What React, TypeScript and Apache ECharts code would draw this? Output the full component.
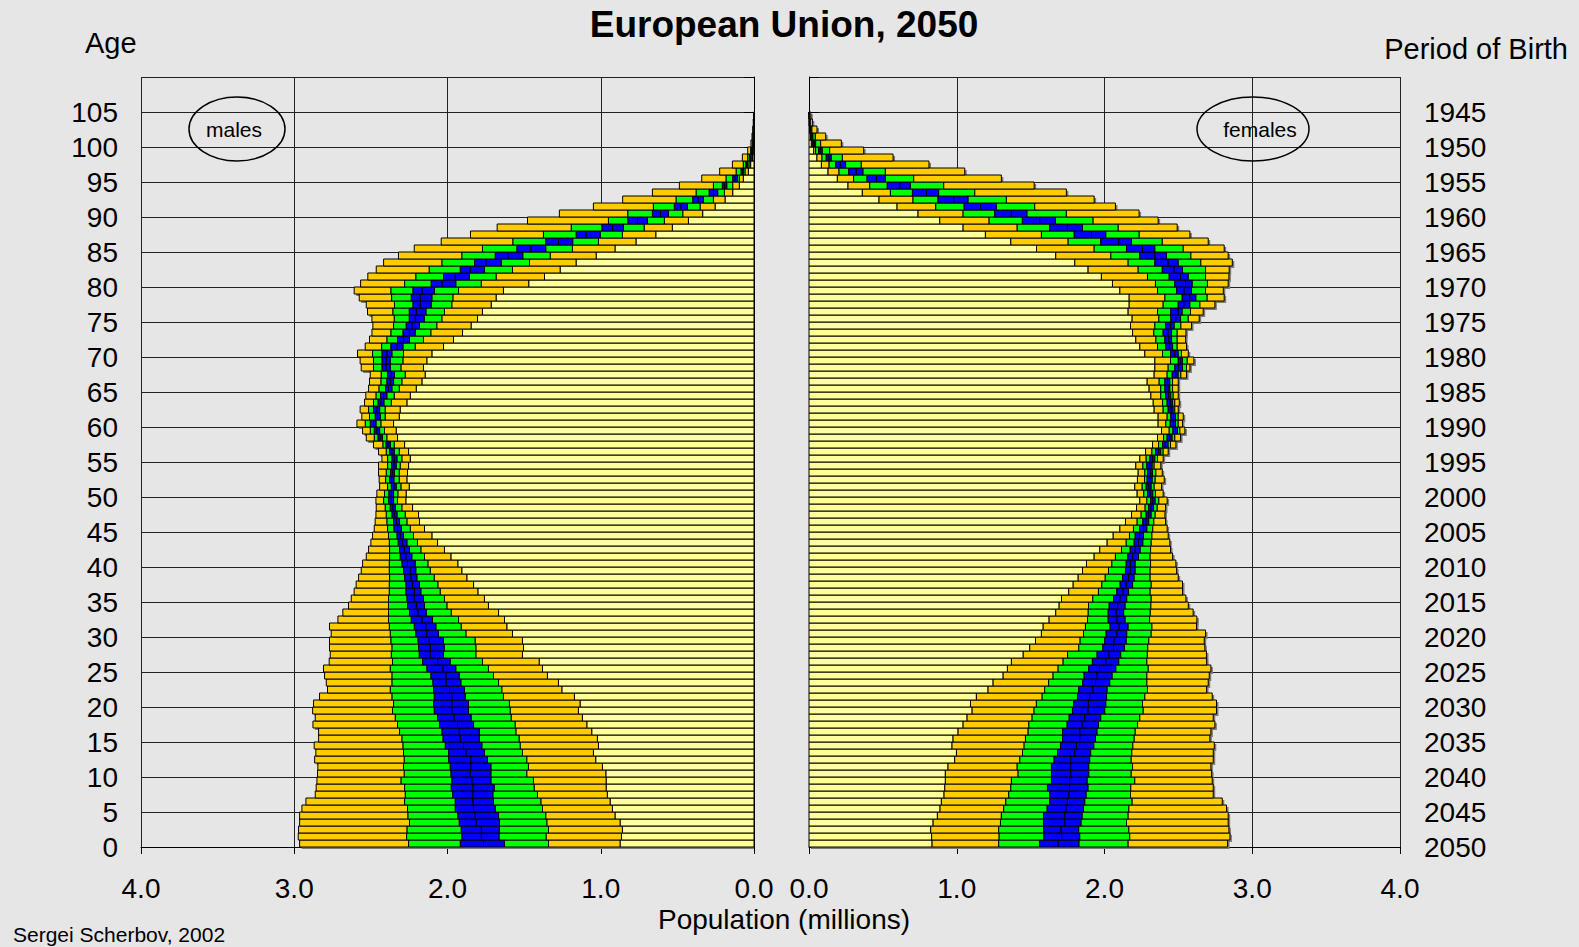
import React, { useEffect, useRef } from "react";
import * as echarts from "echarts";

// Quantile boundaries per age (index = age 0..104), millions.
// [yellow end, orange end, green end, median, blue end, green end, orange end]
const maleBands: number[][] = [
  [0.874, 1.341, 1.628, 1.765, 1.917, 2.254, 2.965],
  [0.865, 1.357, 1.664, 1.78, 1.907, 2.267, 2.974],
  [0.859, 1.341, 1.663, 1.78, 1.911, 2.265, 2.972],
  [0.874, 1.352, 1.661, 1.813, 1.924, 2.248, 2.965],
  [0.907, 1.359, 1.667, 1.82, 1.933, 2.259, 2.965],
  [0.924, 1.38, 1.689, 1.83, 1.95, 2.261, 2.95],
  [0.939, 1.391, 1.7, 1.835, 1.95, 2.28, 2.924],
  [0.957, 1.413, 1.704, 1.835, 1.967, 2.276, 2.863],
  [0.965, 1.435, 1.696, 1.835, 1.976, 2.28, 2.857],
  [0.965, 1.439, 1.717, 1.841, 1.972, 2.304, 2.852],
  [0.967, 1.483, 1.717, 1.852, 1.978, 2.283, 2.848],
  [0.989, 1.472, 1.717, 1.848, 1.983, 2.287, 2.846],
  [1.033, 1.483, 1.739, 1.848, 1.993, 2.283, 2.867],
  [1.048, 1.511, 1.759, 1.88, 1.993, 2.287, 2.859],
  [1.015, 1.526, 1.776, 1.896, 2.015, 2.291, 2.87],
  [1.022, 1.533, 1.793, 1.917, 2.03, 2.298, 2.841],
  [1.059, 1.554, 1.793, 1.924, 2.037, 2.313, 2.841],
  [1.091, 1.559, 1.83, 1.935, 2.052, 2.326, 2.878],
  [1.12, 1.585, 1.846, 1.957, 2.065, 2.341, 2.863],
  [1.146, 1.591, 1.863, 1.972, 2.087, 2.359, 2.88],
  [1.135, 1.596, 1.863, 1.972, 2.091, 2.352, 2.874],
  [1.172, 1.635, 1.885, 1.972, 2.087, 2.363, 2.835],
  [1.254, 1.646, 1.889, 1.987, 2.091, 2.374, 2.783],
  [1.276, 1.667, 1.913, 2.009, 2.096, 2.363, 2.791],
  [1.348, 1.7, 1.924, 2.011, 2.109, 2.363, 2.802],
  [1.38, 1.733, 1.946, 2.03, 2.135, 2.374, 2.809],
  [1.402, 1.772, 1.983, 2.065, 2.163, 2.359, 2.772],
  [1.511, 1.815, 2.026, 2.113, 2.185, 2.367, 2.765],
  [1.504, 1.815, 2.022, 2.113, 2.189, 2.363, 2.77],
  [1.511, 1.82, 2.026, 2.12, 2.193, 2.37, 2.77],
  [1.576, 1.88, 2.059, 2.135, 2.207, 2.374, 2.759],
  [1.613, 1.911, 2.076, 2.141, 2.217, 2.38, 2.77],
  [1.628, 1.928, 2.098, 2.167, 2.237, 2.385, 2.715],
  [1.667, 1.976, 2.139, 2.193, 2.248, 2.385, 2.683],
  [1.733, 2.004, 2.15, 2.204, 2.261, 2.385, 2.646],
  [1.759, 2.02, 2.157, 2.217, 2.265, 2.385, 2.628],
  [1.802, 2.048, 2.174, 2.217, 2.272, 2.38, 2.609],
  [1.83, 2.063, 2.183, 2.228, 2.272, 2.38, 2.596],
  [1.874, 2.087, 2.2, 2.239, 2.28, 2.378, 2.58],
  [1.907, 2.113, 2.207, 2.243, 2.287, 2.38, 2.563],
  [1.933, 2.128, 2.211, 2.261, 2.298, 2.38, 2.554],
  [1.978, 2.15, 2.233, 2.272, 2.309, 2.378, 2.53],
  [2.02, 2.174, 2.248, 2.283, 2.313, 2.378, 2.515],
  [2.065, 2.196, 2.265, 2.293, 2.322, 2.38, 2.5],
  [2.102, 2.222, 2.287, 2.309, 2.33, 2.385, 2.489],
  [2.15, 2.243, 2.302, 2.326, 2.35, 2.391, 2.478],
  [2.183, 2.265, 2.313, 2.333, 2.352, 2.396, 2.472],
  [2.189, 2.276, 2.33, 2.348, 2.363, 2.4, 2.467],
  [2.228, 2.298, 2.341, 2.357, 2.374, 2.407, 2.465],
  [2.272, 2.326, 2.352, 2.367, 2.385, 2.417, 2.467],
  [2.27, 2.324, 2.352, 2.367, 2.383, 2.411, 2.461],
  [2.25, 2.304, 2.335, 2.35, 2.367, 2.391, 2.443],
  [2.265, 2.315, 2.35, 2.365, 2.378, 2.404, 2.446],
  [2.261, 2.315, 2.346, 2.359, 2.372, 2.4, 2.45],
  [2.254, 2.309, 2.335, 2.35, 2.365, 2.391, 2.45],
  [2.243, 2.298, 2.33, 2.348, 2.363, 2.391, 2.428],
  [2.254, 2.315, 2.348, 2.363, 2.378, 2.4, 2.45],
  [2.28, 2.348, 2.374, 2.389, 2.402, 2.422, 2.483],
  [2.326, 2.396, 2.424, 2.439, 2.454, 2.478, 2.53],
  [2.335, 2.411, 2.443, 2.461, 2.478, 2.504, 2.554],
  [2.352, 2.435, 2.467, 2.483, 2.504, 2.537, 2.591],
  [2.315, 2.407, 2.439, 2.457, 2.472, 2.509, 2.559],
  [2.309, 2.407, 2.443, 2.461, 2.483, 2.515, 2.57],
  [2.265, 2.367, 2.415, 2.435, 2.454, 2.483, 2.541],
  [2.243, 2.348, 2.396, 2.417, 2.437, 2.467, 2.533],
  [2.204, 2.315, 2.363, 2.385, 2.404, 2.448, 2.515],
  [2.167, 2.298, 2.352, 2.374, 2.396, 2.435, 2.509],
  [2.146, 2.276, 2.346, 2.367, 2.391, 2.433, 2.504],
  [2.157, 2.304, 2.374, 2.402, 2.428, 2.483, 2.563],
  [2.135, 2.291, 2.374, 2.4, 2.428, 2.483, 2.57],
  [2.102, 2.287, 2.363, 2.396, 2.428, 2.489, 2.587],
  [2.026, 2.211, 2.291, 2.33, 2.37, 2.43, 2.537],
  [1.961, 2.157, 2.248, 2.287, 2.326, 2.396, 2.509],
  [1.902, 2.109, 2.211, 2.248, 2.291, 2.37, 2.493],
  [1.846, 2.07, 2.183, 2.233, 2.27, 2.352, 2.487],
  [1.804, 2.037, 2.152, 2.211, 2.25, 2.348, 2.493],
  [1.772, 2.02, 2.141, 2.204, 2.25, 2.357, 2.522],
  [1.715, 1.972, 2.107, 2.178, 2.226, 2.346, 2.53],
  [1.683, 1.965, 2.102, 2.178, 2.237, 2.365, 2.576],
  [1.635, 1.928, 2.085, 2.167, 2.226, 2.37, 2.609],
  [1.47, 1.78, 1.946, 2.037, 2.107, 2.28, 2.567],
  [1.367, 1.683, 1.857, 1.95, 2.026, 2.207, 2.52],
  [1.265, 1.576, 1.759, 1.852, 1.917, 2.12, 2.465],
  [1.161, 1.465, 1.65, 1.75, 1.824, 2.037, 2.417],
  [1.03, 1.33, 1.509, 1.607, 1.689, 1.907, 2.32],
  [0.907, 1.185, 1.359, 1.457, 1.548, 1.772, 2.217],
  [0.77, 1.015, 1.183, 1.276, 1.359, 1.574, 2.041],
  [0.641, 0.859, 1.004, 1.096, 1.161, 1.374, 1.85],
  [0.533, 0.717, 0.852, 0.924, 0.993, 1.193, 1.676],
  [0.428, 0.585, 0.696, 0.761, 0.824, 0.95, 1.478],
  [0.335, 0.465, 0.559, 0.61, 0.663, 0.824, 1.27],
  [0.254, 0.352, 0.435, 0.478, 0.52, 0.657, 1.048],
  [0.189, 0.265, 0.33, 0.365, 0.4, 0.509, 0.857],
  [0.139, 0.193, 0.237, 0.265, 0.293, 0.378, 0.663],
  [0.096, 0.139, 0.178, 0.193, 0.207, 0.265, 0.487],
  [0.07, 0.096, 0.109, 0.124, 0.139, 0.183, 0.341],
  [0.037, 0.059, 0.07, 0.077, 0.085, 0.117, 0.224],
  [0.022, 0.033, 0.043, 0.048, 0.054, 0.07, 0.141],
  [0.009, 0.013, 0.02, 0.025, 0.03, 0.041, 0.076],
  [0.006, 0.009, 0.012, 0.014, 0.016, 0.022, 0.041],
  [0.003, 0.005, 0.007, 0.008, 0.009, 0.012, 0.02],
  [0.002, 0.003, 0.004, 0.005, 0.006, 0.008, 0.013],
  [0.001, 0.002, 0.0025, 0.003, 0.0035, 0.005, 0.008],
  [0.0005, 0.001, 0.0015, 0.002, 0.0025, 0.003, 0.005],
  [0.0003, 0.0006, 0.0008, 0.001, 0.0012, 0.0015, 0.003],
];

const femaleBands: number[][] = [
  [0.833, 1.284, 1.56, 1.686, 1.828, 2.16, 2.833],
  [0.83, 1.287, 1.59, 1.71, 1.833, 2.171, 2.849],
  [0.824, 1.284, 1.589, 1.706, 1.826, 2.165, 2.842],
  [0.84, 1.296, 1.587, 1.731, 1.842, 2.149, 2.837],
  [0.869, 1.302, 1.587, 1.731, 1.849, 2.16, 2.837],
  [0.887, 1.318, 1.612, 1.74, 1.858, 2.165, 2.826],
  [0.896, 1.332, 1.63, 1.749, 1.867, 2.187, 2.797],
  [0.914, 1.352, 1.63, 1.759, 1.876, 2.176, 2.736],
  [0.919, 1.366, 1.614, 1.763, 1.889, 2.178, 2.736],
  [0.923, 1.37, 1.641, 1.765, 1.883, 2.205, 2.729],
  [0.923, 1.415, 1.641, 1.772, 1.894, 2.181, 2.725],
  [0.941, 1.409, 1.641, 1.772, 1.894, 2.19, 2.72],
  [0.986, 1.427, 1.659, 1.772, 1.9, 2.181, 2.736],
  [0.998, 1.445, 1.682, 1.799, 1.907, 2.185, 2.736],
  [0.968, 1.456, 1.702, 1.81, 1.928, 2.192, 2.743],
  [0.975, 1.465, 1.716, 1.833, 1.939, 2.201, 2.713],
  [1.009, 1.483, 1.716, 1.833, 1.95, 2.208, 2.72],
  [1.043, 1.488, 1.747, 1.849, 1.959, 2.224, 2.747],
  [1.07, 1.51, 1.761, 1.866, 1.975, 2.239, 2.736],
  [1.104, 1.523, 1.783, 1.889, 2.002, 2.262, 2.758],
  [1.093, 1.539, 1.792, 1.891, 2.009, 2.257, 2.758],
  [1.133, 1.578, 1.817, 1.9, 2.014, 2.273, 2.729],
  [1.212, 1.595, 1.826, 1.923, 2.018, 2.291, 2.691],
  [1.246, 1.622, 1.853, 1.939, 2.036, 2.287, 2.702],
  [1.314, 1.652, 1.862, 1.95, 2.052, 2.287, 2.709],
  [1.343, 1.686, 1.893, 1.967, 2.077, 2.296, 2.72],
  [1.37, 1.72, 1.918, 2.009, 2.097, 2.287, 2.691],
  [1.45, 1.75, 1.95, 2.03, 2.11, 2.29, 2.69],
  [1.494, 1.826, 1.989, 2.061, 2.135, 2.293, 2.679],
  [1.533, 1.835, 2.0, 2.065, 2.147, 2.3, 2.675],
  [1.573, 1.858, 2.011, 2.084, 2.151, 2.316, 2.684],
  [1.585, 1.871, 2.038, 2.099, 2.16, 2.321, 2.623],
  [1.625, 1.885, 2.025, 2.085, 2.14, 2.305, 2.625],
  [1.67, 1.89, 2.025, 2.08, 2.13, 2.31, 2.6],
  [1.693, 1.892, 2.032, 2.09, 2.14, 2.314, 2.567],
  [1.709, 1.921, 2.061, 2.106, 2.151, 2.316, 2.551],
  [1.758, 1.959, 2.084, 2.126, 2.163, 2.309, 2.528],
  [1.788, 1.982, 2.106, 2.147, 2.19, 2.316, 2.528],
  [1.822, 2.005, 2.122, 2.163, 2.201, 2.309, 2.499],
  [1.851, 2.027, 2.142, 2.176, 2.208, 2.309, 2.488],
  [1.878, 2.05, 2.147, 2.176, 2.208, 2.312, 2.483],
  [1.93, 2.074, 2.158, 2.192, 2.23, 2.309, 2.461],
  [1.968, 2.115, 2.174, 2.208, 2.242, 2.312, 2.447],
  [2.018, 2.147, 2.201, 2.23, 2.26, 2.316, 2.442],
  [2.059, 2.169, 2.208, 2.237, 2.264, 2.321, 2.431],
  [2.104, 2.196, 2.237, 2.264, 2.287, 2.327, 2.424],
  [2.142, 2.221, 2.26, 2.282, 2.3, 2.334, 2.413],
  [2.183, 2.248, 2.282, 2.3, 2.316, 2.343, 2.409],
  [2.217, 2.275, 2.298, 2.316, 2.332, 2.357, 2.413],
  [2.239, 2.287, 2.312, 2.327, 2.343, 2.368, 2.424],
  [2.221, 2.266, 2.291, 2.309, 2.327, 2.345, 2.397],
  [2.205, 2.255, 2.282, 2.3, 2.316, 2.336, 2.386],
  [2.223, 2.271, 2.289, 2.307, 2.323, 2.343, 2.404],
  [2.228, 2.273, 2.291, 2.312, 2.325, 2.348, 2.391],
  [2.212, 2.26, 2.287, 2.307, 2.323, 2.336, 2.381],
  [2.239, 2.282, 2.307, 2.325, 2.341, 2.359, 2.397],
  [2.278, 2.321, 2.345, 2.366, 2.381, 2.397, 2.431],
  [2.325, 2.366, 2.393, 2.411, 2.431, 2.447, 2.483],
  [2.359, 2.4, 2.424, 2.445, 2.458, 2.476, 2.515],
  [2.386, 2.438, 2.463, 2.481, 2.494, 2.51, 2.544],
  [2.363, 2.415, 2.445, 2.467, 2.481, 2.499, 2.528],
  [2.363, 2.424, 2.449, 2.467, 2.481, 2.499, 2.533],
  [2.336, 2.397, 2.431, 2.451, 2.465, 2.476, 2.499],
  [2.33, 2.393, 2.424, 2.445, 2.461, 2.476, 2.506],
  [2.314, 2.381, 2.413, 2.433, 2.449, 2.465, 2.499],
  [2.302, 2.381, 2.409, 2.431, 2.442, 2.461, 2.499],
  [2.289, 2.37, 2.409, 2.427, 2.442, 2.461, 2.499],
  [2.336, 2.424, 2.458, 2.483, 2.499, 2.517, 2.555],
  [2.341, 2.431, 2.476, 2.503, 2.528, 2.555, 2.578],
  [2.341, 2.447, 2.499, 2.515, 2.528, 2.56, 2.605],
  [2.273, 2.393, 2.447, 2.476, 2.499, 2.521, 2.567],
  [2.239, 2.359, 2.415, 2.442, 2.461, 2.492, 2.555],
  [2.212, 2.348, 2.409, 2.436, 2.454, 2.492, 2.549],
  [2.19, 2.334, 2.397, 2.431, 2.454, 2.492, 2.551],
  [2.176, 2.341, 2.413, 2.449, 2.472, 2.517, 2.589],
  [2.187, 2.368, 2.449, 2.483, 2.515, 2.567, 2.641],
  [2.16, 2.359, 2.449, 2.499, 2.526, 2.582, 2.668],
  [2.167, 2.397, 2.499, 2.537, 2.578, 2.646, 2.747],
  [2.167, 2.409, 2.526, 2.578, 2.619, 2.695, 2.81],
  [2.104, 2.359, 2.488, 2.539, 2.589, 2.684, 2.804],
  [2.054, 2.345, 2.476, 2.548, 2.594, 2.697, 2.837],
  [1.979, 2.291, 2.438, 2.515, 2.567, 2.684, 2.842],
  [1.889, 2.228, 2.391, 2.47, 2.528, 2.684, 2.844],
  [1.799, 2.16, 2.341, 2.431, 2.499, 2.652, 2.865],
  [1.67, 2.043, 2.239, 2.341, 2.42, 2.585, 2.837],
  [1.54, 1.93, 2.149, 2.257, 2.341, 2.533, 2.81],
  [1.366, 1.754, 1.975, 2.097, 2.183, 2.391, 2.702],
  [1.194, 1.573, 1.795, 1.912, 2.009, 2.235, 2.578],
  [1.043, 1.409, 1.63, 1.749, 1.851, 2.093, 2.492],
  [0.885, 1.219, 1.444, 1.562, 1.668, 1.923, 2.363],
  [0.738, 1.043, 1.257, 1.37, 1.476, 1.742, 2.234],
  [0.596, 0.858, 1.05, 1.162, 1.268, 1.528, 2.074],
  [0.474, 0.704, 0.873, 0.98, 1.077, 1.336, 1.93],
  [0.361, 0.551, 0.7, 0.795, 0.878, 1.122, 1.742],
  [0.264, 0.411, 0.53, 0.614, 0.686, 0.912, 1.524],
  [0.192, 0.302, 0.393, 0.456, 0.517, 0.709, 1.302],
  [0.129, 0.203, 0.269, 0.32, 0.366, 0.517, 1.054],
  [0.084, 0.136, 0.181, 0.212, 0.248, 0.354, 0.812],
  [0.054, 0.088, 0.117, 0.135, 0.151, 0.226, 0.569],
  [0.032, 0.045, 0.065, 0.077, 0.09, 0.14, 0.37],
  [0.016, 0.025, 0.032, 0.038, 0.045, 0.079, 0.219],
  [0.009, 0.014, 0.018, 0.022, 0.027, 0.043, 0.113],
  [0.004, 0.007, 0.009, 0.011, 0.013, 0.02, 0.054],
  [0.002, 0.003, 0.004, 0.005, 0.006, 0.009, 0.023],
  [0.001, 0.0015, 0.002, 0.0025, 0.003, 0.004, 0.012],
];

const bandColors = ["#FFFF99", "#FFCC00", "#00FF00", "#0000FF", "#0000FF", "#00FF00", "#FFCC00"];
const PROJECTION_YEAR = 2050;
const AGE_TOP = 110;
const POP_MAX = 4;

const FONT = '"Liberation Sans", Arial, Helvetica, sans-serif';

function toData(bands: number[][]) {
  return bands.map((b, age) => [age, ...b]);
}

function makeBarsRender() {
  return (params: any, api: any) => {
    const age = api.value(0);
    const children: any[] = [];
    let prev = 0;
    for (let k = 0; k < 7; k++) {
      const v = api.value(k + 1);
      const p0 = api.coord([prev, age]);
      const p1 = api.coord([v, age + 1]);
      const x = Math.min(p0[0], p1[0]);
      const w = Math.abs(p1[0] - p0[0]);
      const y = Math.min(p0[1], p1[1]);
      const h = Math.abs(p1[1] - p0[1]);
      children.push({
        type: "rect",
        shape: { x, y, width: w, height: h },
        style: { fill: bandColors[k], stroke: "#000", lineWidth: 1 },
      });
      prev = v;
    }
    return { type: "group", children };
  };
}

function makeShadowRender(isMale: boolean) {
  return (params: any, api: any) => {
    const age = api.value(0);
    const total = api.value(7);
    const p0 = api.coord([0, age]);
    const p1 = api.coord([total, age + 1]);
    const x0 = Math.min(p0[0], p1[0]);
    const x1 = Math.max(p0[0], p1[0]);
    const y0 = Math.min(p0[1], p1[1]);
    const h = Math.abs(p1[1] - p0[1]);
    const sx = x0 + 2;
    const ex = isMale ? x1 : x1 + 2;
    return {
      type: "rect",
      shape: { x: sx, y: y0 + 2, width: Math.max(0, ex - sx), height: h },
      style: { fill: "#7a7a7a" },
    };
  };
}

export default function App() {
  const ref = useRef<HTMLDivElement>(null);

  useEffect(() => {
    if (!ref.current) return;
    const chart = echarts.init(ref.current, null, { renderer: "svg" });

    const gridLine = { show: true, lineStyle: { color: "#222", width: 1 } };
    const axisLineStyle = { show: true, lineStyle: { color: "#000", width: 1 } };

    const xAxisBase = (gridIndex: number, inverse: boolean) => ({
      gridIndex,
      type: "value",
      min: 0,
      max: POP_MAX,
      interval: 1,
      inverse,
      axisLine: axisLineStyle,
      axisTick: { show: true, length: 7, lineStyle: { color: "#000" } },
      axisLabel: {
        formatter: (v: number) => v.toFixed(1),
        fontSize: 28,
        fontFamily: FONT,
        color: "#000",
        margin: 27,
      },
      splitLine: gridLine,
    });

    const yAxisBase = (gridIndex: number, position: string, fmt: (v: number) => string, margin: number) => ({
      gridIndex,
      type: "value",
      min: 0,
      max: AGE_TOP,
      interval: 5,
      position,
      axisLine: axisLineStyle,
      axisTick: { show: true, length: 10, lineStyle: { color: "#000" } },
      axisLabel: {
        formatter: (v: number) => (v >= AGE_TOP ? "" : fmt(v)),
        fontSize: 28,
        fontFamily: FONT,
        color: "#000",
        margin,
      },
      splitLine: gridLine,
    });

    const textStyle = (text: string, size: number, align: string, bold = false) => ({
      text,
      font: `${bold ? "bold " : ""}${size}px ${FONT}`,
      fill: "#000",
      align,
      textAlign: align,
      verticalAlign: "middle",
      textVerticalAlign: "middle",
    });

    const option: any = {
      animation: false,
      backgroundColor: "#e6e6e6",
      grid: [
        { left: 141, top: 77, width: 613, height: 770 },
        { left: 809, top: 77, width: 591, height: 770 },
      ],
      xAxis: [xAxisBase(0, true), xAxisBase(1, false)],
      yAxis: [
        yAxisBase(0, "left", (v) => String(v), 23),
        yAxisBase(1, "right", (v) => String(PROJECTION_YEAR - v), 24),
      ],
      series: [
        {
          type: "custom",
          xAxisIndex: 0,
          yAxisIndex: 0,
          z: 2,
          renderItem: makeShadowRender(true),
          encode: { x: [1, 2, 3, 4, 5, 6, 7], y: 0 },
          data: toData(maleBands),
        },
        {
          type: "custom",
          xAxisIndex: 1,
          yAxisIndex: 1,
          z: 2,
          renderItem: makeShadowRender(false),
          encode: { x: [1, 2, 3, 4, 5, 6, 7], y: 0 },
          data: toData(femaleBands),
        },
        {
          type: "custom",
          name: "males",
          xAxisIndex: 0,
          yAxisIndex: 0,
          z: 3,
          renderItem: makeBarsRender(),
          encode: { x: [1, 2, 3, 4, 5, 6, 7], y: 0 },
          data: toData(maleBands),
        },
        {
          type: "custom",
          name: "females",
          xAxisIndex: 1,
          yAxisIndex: 1,
          z: 3,
          renderItem: makeBarsRender(),
          encode: { x: [1, 2, 3, 4, 5, 6, 7], y: 0 },
          data: toData(femaleBands),
        },
      ],
      graphic: [
        { type: "text", x: 784, y: 24, style: textStyle("European Union, 2050", 37, "center", true) },
        { type: "text", x: 85, y: 43, style: textStyle("Age", 29, "left") },
        { type: "text", x: 1568, y: 49, style: textStyle("Period of Birth", 29, "right") },
        { type: "text", x: 784, y: 919, style: textStyle("Population (millions)", 28, "center") },
        { type: "text", x: 13, y: 934, style: textStyle("Sergei Scherbov, 2002", 21, "left") },
        {
          type: "ellipse",
          shape: { cx: 237, cy: 129, rx: 48, ry: 32 },
          style: { fill: "none", stroke: "#000", lineWidth: 1.5 },
          z: 10,
        },
        { type: "text", x: 234, y: 129, style: textStyle("males", 21, "center"), z: 10 },
        {
          type: "ellipse",
          shape: { cx: 1253, cy: 129, rx: 56, ry: 32 },
          style: { fill: "none", stroke: "#000", lineWidth: 1.5 },
          z: 10,
        },
        { type: "text", x: 1260, y: 129, style: textStyle("females", 21, "center"), z: 10 },
      ],
    };

    chart.setOption(option);
    return () => chart.dispose();
  }, []);

  return (
    <div
      ref={ref}
      style={{ position: "fixed", left: 0, top: 0, width: 1579, height: 947, background: "#e6e6e6" }}
    />
  );
}
